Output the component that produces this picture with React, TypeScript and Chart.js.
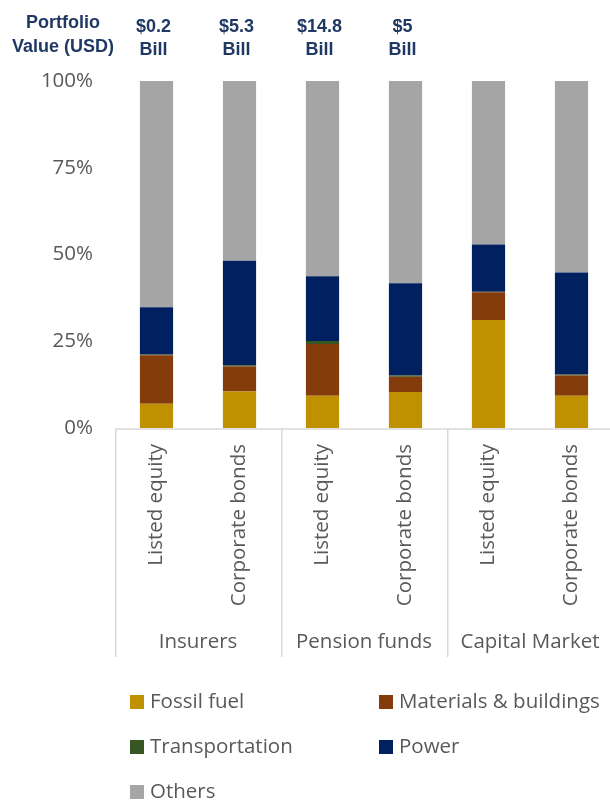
import React, { useEffect, useRef } from "react";
import { Chart, registerables } from "chart.js";

Chart.register(...registerables);

const categories = ["Listed equity", "Corporate bonds", "Listed equity", "Corporate bonds", "Listed equity", "Corporate bonds"];
const groups = ["Insurers", "Pension funds", "Capital Market"];
const headerTitle = ["Portfolio", "Value (USD)"];
const portfolioValues = ["$0.2", "$5.3", "$14.8", "$5"];
const portfolioUnit = "Bill";
const yTicks = [0, 25, 50, 75, 100];

const fossilFuel = [7.0, 10.5, 9.3, 10.4, 31.1, 9.3];
const materials = [14.0, 7.2, 14.9, 4.4, 8.0, 5.8];
const transportation = [0.2, 0.4, 0.9, 0.3, 0.2, 0.3];
const power = [13.6, 30.1, 18.6, 26.6, 13.6, 29.4];
const others = [65.2, 51.8, 56.3, 58.3, 47.1, 55.2];

const seriesNames = ["Fossil fuel", "Materials & buildings", "Transportation", "Power", "Others"];
const seriesColors = ["#BF9000", "#843C0C", "#375623", "#002060", "#A5A5A5"];

const FONT = "'Open Sans', sans-serif";
const FSIZE = 20.5;
const HEAD_FONT = "bold 18px 'Liberation Sans', Arial, sans-serif";

const decorPlugin = {
  id: "decor",
  afterDraw(chart: any) {
    const { ctx, chartArea } = chart;
    const x = chart.scales.x;
    const n = categories.length;
    const catW = (chartArea.right - chartArea.left) / n;
    ctx.save();
    // axis line and group separators
    ctx.strokeStyle = "#D9D9D9";
    ctx.lineWidth = 1.5;
    ctx.beginPath();
    ctx.moveTo(chartArea.left, chartArea.bottom + 1);
    ctx.lineTo(chartArea.right, chartArea.bottom + 1);
    const per = n / groups.length;
    for (let g = 0; g <= groups.length; g++) {
      const gx = chartArea.left + catW * per * g + 0.75;
      ctx.moveTo(gx, chartArea.bottom + 1);
      ctx.lineTo(gx, 657);
    }
    ctx.stroke();
    // group labels
    ctx.fillStyle = "#595959";
    ctx.font = `${FSIZE}px ${FONT}`;
    ctx.textAlign = "center";
    ctx.textBaseline = "middle";
    groups.forEach((g, i) => {
      const cx = chartArea.left + catW * per * (i + 0.5);
      ctx.fillText(g, cx, 642);
    });
    // header
    ctx.fillStyle = "#1F3864";
    ctx.font = HEAD_FONT;
    ctx.fillText(headerTitle[0], 63, 23);
    ctx.fillText(headerTitle[1], 63, 47);
    portfolioValues.forEach((v, i) => {
      const px = x.getPixelForValue(i) - 3;
      ctx.fillText(v, px, 27);
      ctx.fillText(portfolioUnit, px, 50);
    });
    // legend
    const colX = [130, 379];
    const rowY = [702, 747, 792];
    ctx.font = `${FSIZE}px ${FONT}`;
    ctx.textAlign = "left";
    chart.data.datasets.forEach((ds: any, i: number) => {
      const cx = colX[i % 2];
      const cy = rowY[Math.floor(i / 2)];
      ctx.fillStyle = ds.backgroundColor;
      ctx.fillRect(cx, cy - 7, 14, 14);
      ctx.fillStyle = "#595959";
      ctx.fillText(ds.label, cx + 20, cy);
    });
    ctx.restore();
  },
};

export default function App() {
  const ref = useRef<HTMLCanvasElement>(null);
  useEffect(() => {
    if (!ref.current) return;
    Chart.defaults.font.family = FONT;
    const seriesData = [fossilFuel, materials, transportation, power, others];
    const chart = new Chart(ref.current, {
      type: "bar",
      data: {
        labels: categories,
        datasets: seriesNames.map((name, i) => ({
          label: name,
          data: seriesData[i],
          backgroundColor: seriesColors[i],
          borderWidth: 0,
          barPercentage: 0.4,
          categoryPercentage: 1,
        })),
      },
      options: {
        responsive: false,
        animation: false,
        layout: { padding: { top: 81, left: 0, right: 1, bottom: 143 } },
        plugins: { legend: { display: false }, tooltip: { enabled: false } },
        scales: {
          x: {
            stacked: true,
            grid: { display: false, drawTicks: false },
            border: { display: false },
            ticks: {
              minRotation: 90,
              maxRotation: 90,
              autoSkip: false,
              padding: 16,
              color: "#595959",
              font: { size: FSIZE, family: FONT },
            },
            afterFit: (s: any) => {
              s.height = 230;
            },
          },
          y: {
            stacked: true,
            min: 0,
            max: 100,
            afterBuildTicks: (s: any) => {
              s.ticks = yTicks.map((v) => ({ value: v }));
            },
            grid: { display: false, drawTicks: false },
            border: { display: false },
            ticks: {
              callback: (v: any) => `${v}%`,
              padding: 22,
              color: "#595959",
              font: { size: FSIZE, family: FONT },
            },
            afterFit: (s: any) => {
              s.width = 115;
            },
          },
        },
      },
      plugins: [decorPlugin],
    });
    return () => chart.destroy();
  }, []);
  return (
    <div style={{ position: "fixed", left: 0, top: 0, width: 610, height: 801, overflow: "hidden", background: "#fff" }}>
      <canvas ref={ref} width={614} height={801} style={{ display: "block", width: 614, height: 801 }} />
    </div>
  );
}
